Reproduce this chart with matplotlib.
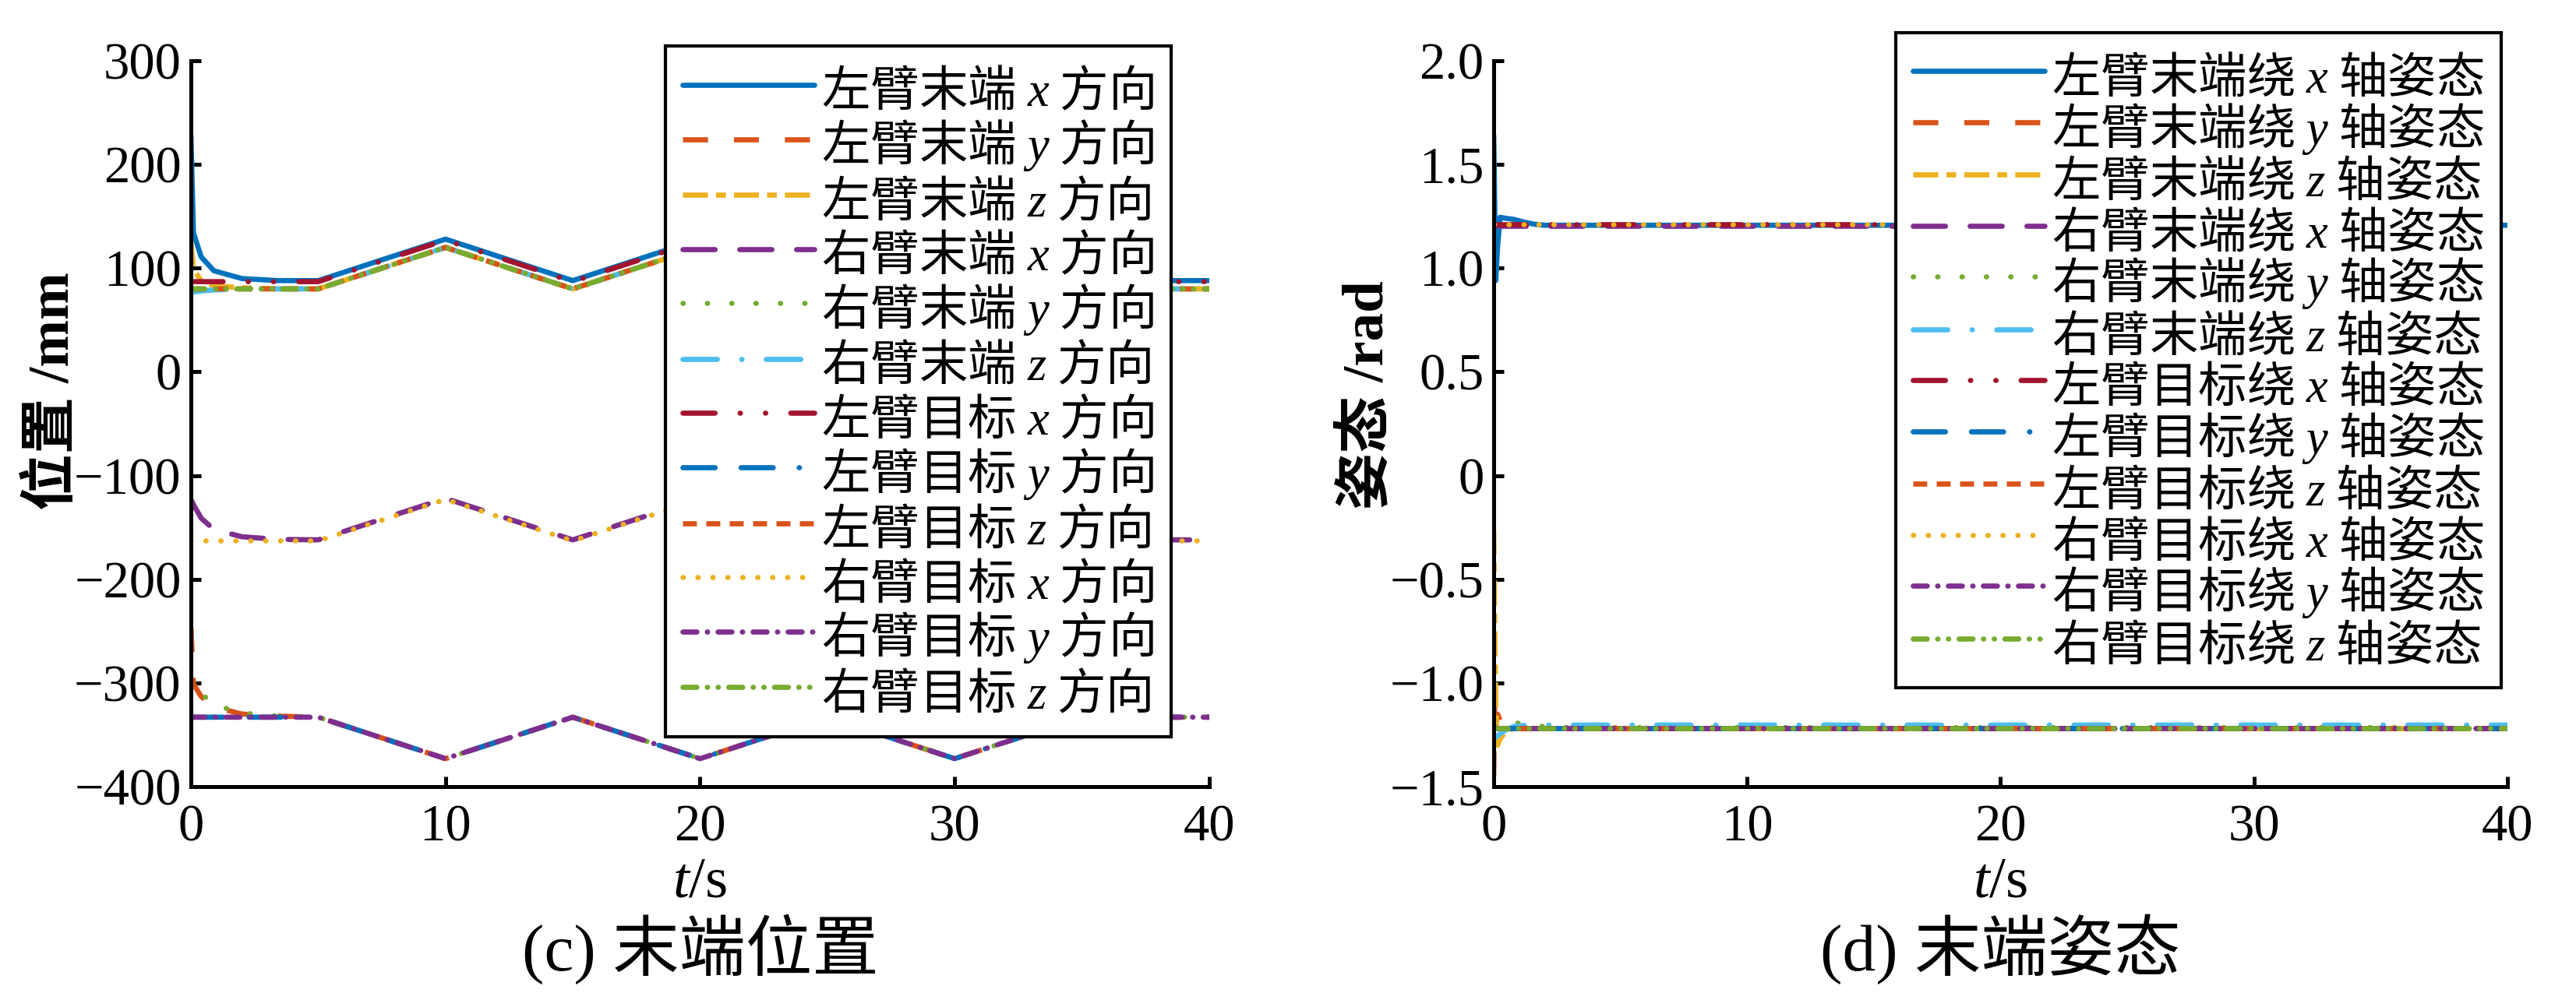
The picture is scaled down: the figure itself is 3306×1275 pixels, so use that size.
import matplotlib
matplotlib.use('Agg')
import matplotlib.pyplot as plt

plt.rcParams['font.family'] = ['Liberation Serif', 'Noto Sans CJK SC']
plt.rcParams['mathtext.fontset'] = 'custom'
plt.rcParams['mathtext.rm'] = 'Liberation Serif'
plt.rcParams['mathtext.it'] = 'Liberation Serif:italic'
plt.rcParams['lines.scale_dashes'] = False
plt.rcParams['axes.unicode_minus'] = True

# ---------- (c) end position, mm ----------
t_ref = [0, 5, 10, 15, 20, 25, 30, 35, 40]
t_end = [0, 0.1, 0.4, 0.9, 2.0, 3.4, 5, 10, 15, 20, 25, 30, 35, 40]

left_end_x = [228, 134, 111, 97.5, 90, 88, 88, 128, 88, 128, 88, 128, 88, 88]
left_end_y = [-246, -301, -313, -323, -330, -332, -333, -373, -333, -373, -333, -373, -333, -333]
left_end_z = [126, 99, 88, 83, 81, 80, 80, 120, 80, 120, 80, 120, 80, 80]
right_end_x = [-123, -128, -141, -152, -159, -161.5, -162, -122, -162, -122, -162, -122, -162, -162]
right_end_y = [-295, -300, -310, -321, -329, -332, -333, -373, -333, -373, -333, -373, -333, -333]
right_end_z = [76.5, 77, 78, 79, 80, 80, 80, 120, 80, 120, 80, 120, 80, 80]

left_target_x = [87, 87, 127, 87, 127, 87, 127, 87, 87]
left_target_y = [-333, -333, -373, -333, -373, -333, -373, -333, -333]
left_target_z = [80, 80, 120, 80, 120, 80, 120, 80, 80]
right_target_x = [-163, -163, -123, -163, -123, -163, -123, -163, -163]
right_target_y = [-333, -333, -373, -333, -373, -333, -373, -333, -333]
right_target_z = [80, 80, 120, 80, 120, 80, 120, 80, 80]

pos_labels = ['左臂末端 $x$ 方向', '左臂末端 $y$ 方向', '左臂末端 $z$ 方向',
              '右臂末端 $x$ 方向', '右臂末端 $y$ 方向', '右臂末端 $z$ 方向',
              '左臂目标 $x$ 方向', '左臂目标 $y$ 方向', '左臂目标 $z$ 方向',
              '右臂目标 $x$ 方向', '右臂目标 $y$ 方向', '右臂目标 $z$ 方向']

# ---------- (d) end attitude, rad ----------
t_att = [0, 0.04, 0.08, 0.15, 0.25, 0.5, 0.8, 1.2, 1.6, 2.0, 3.0, 40]
t_flat = [0, 40]

left_end_rx = [1.64, 1.30, 0.94, 1.10, 1.245, 1.24, 1.235, 1.222, 1.212, 1.207, 1.207, 1.207]
left_end_ry = [-1.45, -1.06, -1.20, -1.15, -1.18, -1.22, -1.225, -1.22, -1.22, -1.22, -1.22, -1.22]
left_end_rz = [-0.26, -0.70, -1.10, -1.30, -1.27, -1.23, -1.22, -1.22, -1.22, -1.22, -1.22, -1.22]
right_end_rx = [1.205, 1.205, 1.205, 1.205, 1.205, 1.205, 1.205, 1.205, 1.205, 1.205, 1.205, 1.205]
right_end_ry = [-1.18, -1.18, -1.18, -1.18, -1.18, -1.185, -1.19, -1.20, -1.205, -1.21, -1.215, -1.215]
right_end_rz = [-1.27, -1.265, -1.26, -1.255, -1.245, -1.225, -1.21, -1.205, -1.203, -1.203, -1.203, -1.203]

left_target_rx = [1.21, 1.21]
left_target_ry = [-1.22, -1.22]
left_target_rz = [-1.22, -1.22]
right_target_rx = [1.21, 1.21]
right_target_ry = [-1.22, -1.22]
right_target_rz = [-1.22, -1.22]

att_labels = ['左臂末端绕 $x$ 轴姿态', '左臂末端绕 $y$ 轴姿态', '左臂末端绕 $z$ 轴姿态',
              '右臂末端绕 $x$ 轴姿态', '右臂末端绕 $y$ 轴姿态', '右臂末端绕 $z$ 轴姿态',
              '左臂目标绕 $x$ 轴姿态', '左臂目标绕 $y$ 轴姿态', '左臂目标绕 $z$ 轴姿态',
              '右臂目标绕 $x$ 轴姿态', '右臂目标绕 $y$ 轴姿态', '右臂目标绕 $z$ 轴姿态']

att_yticks = [-1.5, -1.0, -0.5, 0, 0.5, 1.0, 1.5, 2.0]
att_yticklabels = ['\u22121.5', '\u22121.0', '\u22120.5', '0', '0.5', '1.0', '1.5', '2.0']

# matlab default colours, cycling after the 7th
colors = ['#0072BD', '#D95319', '#EDB120', '#7E2F8E', '#77AC30', '#4DBEEE', '#A2142F',
          '#0072BD', '#D95319', '#EDB120', '#7E2F8E', '#77AC30']
# dash patterns in points, and cap style per line
styles = ['-',
          (0, (7.7, 8)),
          (0, (7.7, 2.5, 3, 2.5)),
          (0, (9.9, 7.6)),
          (0, (0.1, 7.4)),
          (0, (10.6, 7.5, 0.1, 7.5)),
          (0, (9.9, 7.7, 0.1, 7.7, 0.1, 7.7)),
          (0, (9.9, 8, 9.9, 8, 0.1, 8)),
          (0, (4.3, 2.9)),
          (0, (0.1, 4.5)),
          (0, (4.3, 3.2, 0.1, 3.2)),
          (0, (4.3, 3.2, 0.1, 3.2, 0.1, 3.2))]
caps = ['round', 'butt', 'butt', 'round', 'round', 'round',
        'round', 'round', 'butt', 'round', 'round', 'round']


def style_axes(ax):
    for s in ['top', 'right']:
        ax.spines[s].set_visible(False)
    for s in ['left', 'bottom']:
        ax.spines[s].set_linewidth(1.2)
    ax.tick_params(direction='in', length=3.2, width=1.2, labelsize=16)
    ax.tick_params(axis='x', pad=5.5)
    ax.tick_params(axis='y', pad=3)


def add_legend(ax, anchor, spacing):
    leg = ax.legend(loc='upper right', bbox_to_anchor=anchor, borderaxespad=0,
                    prop={'family': 'Noto Sans CJK SC', 'size': 15},
                    frameon=True, fancybox=False, edgecolor='black', framealpha=1,
                    borderpad=0.35, handlelength=2.7, handletextpad=0.15,
                    labelspacing=spacing, handleheight=1.33)
    leg.get_frame().set_linewidth(1.0)


fig = plt.figure(figsize=(11.023, 4.25), dpi=300)
ax1 = fig.add_axes([0.0741, 0.2078, 0.3952, 0.7310])
ax2 = fig.add_axes([0.5797, 0.2078, 0.3934, 0.7310])

pos_series = [(t_end, left_end_x), (t_end, left_end_y), (t_end, left_end_z),
              (t_end, right_end_x), (t_end, right_end_y), (t_end, right_end_z),
              (t_ref, left_target_x), (t_ref, left_target_y), (t_ref, left_target_z),
              (t_ref, right_target_x), (t_ref, right_target_y), (t_ref, right_target_z)]
for (t, v), lab, c, ls, cap in zip(pos_series, pos_labels, colors, styles, caps):
    ax1.plot(t, v, color=c, ls=ls, lw=1.6, label=lab,
             dash_capstyle=cap, solid_capstyle='round')
ax1.set_xlim(0, 40)
ax1.set_ylim(-400, 300)
ax1.set_xticks([0, 10, 20, 30, 40])
ax1.set_yticks([-400, -300, -200, -100, 0, 100, 200, 300])
style_axes(ax1)
ax1.set_ylabel('位置 /mm', fontsize=17.5, fontweight='bold')
ax1.yaxis.set_label_coords(-0.134, 0.545)
ax1.yaxis.label.set_va('center')
ax1.set_xlabel('$t$/s', fontsize=18)
ax1.xaxis.set_label_coords(0.5, -0.133)
ax1.xaxis.label.set_va('center')
ax1.text(0.5, -0.224, '(c) 末端位置', transform=ax1.transAxes,
         ha='center', va='center', fontsize=20.5)
add_legend(ax1, (0.9625, 1.020), 0.0)

att_series = [(t_att, left_end_rx), (t_att, left_end_ry), (t_att, left_end_rz),
              (t_att, right_end_rx), (t_att, right_end_ry), (t_att, right_end_rz),
              (t_flat, left_target_rx), (t_flat, left_target_ry), (t_flat, left_target_rz),
              (t_flat, right_target_rx), (t_flat, right_target_ry), (t_flat, right_target_rz)]
for (t, v), lab, c, ls, cap in zip(att_series, att_labels, colors, styles, caps):
    ax2.plot(t, v, color=c, ls=ls, lw=1.6, label=lab,
             dash_capstyle=cap, solid_capstyle='round')
ax2.set_xlim(0, 40)
ax2.set_ylim(-1.5, 2.0)
ax2.set_xticks([0, 10, 20, 30, 40])
ax2.set_yticks(att_yticks)
ax2.set_yticklabels(att_yticklabels)
style_axes(ax2)
ax2.set_ylabel('姿态 /rad', fontsize=17.5, fontweight='bold')
ax2.yaxis.set_label_coords(-0.124, 0.54)
ax2.yaxis.label.set_va('center')
ax2.set_xlabel('$t$/s', fontsize=18)
ax2.xaxis.set_label_coords(0.5, -0.133)
ax2.xaxis.label.set_va('center')
ax2.text(0.5, -0.224, '(d) 末端姿态', transform=ax2.transAxes,
         ha='center', va='center', fontsize=20.5)
add_legend(ax2, (0.994, 1.039), -0.065)

fig.savefig('out.png', dpi=300)
